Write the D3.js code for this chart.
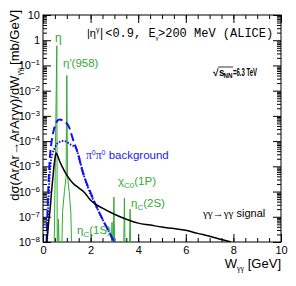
<!DOCTYPE html>
<html>
<head>
<meta charset="utf-8">
<script src="https://cdn.jsdelivr.net/npm/d3@7"></script>
<style>
	body { margin: 0; background: white; }
	text { font-family: "Liberation Sans", Arial, sans-serif; }
</style>
</head>
<body>
<svg id="chart"></svg>
<script>
let width = 296;
let height = 286;

// gamma gamma -> gamma gamma signal
const signalW = [0.15, 0.2, 0.25, 0.3, 0.35, 0.4, 0.45, 0.5, 0.55, 0.6, 0.7, 0.8, 1.0, 1.25, 1.5, 1.75, 2.0, 2.5, 3.0, 3.5, 4.0, 4.5, 5.0, 5.5, 6.0, 6.5, 7.0, 7.5, 7.9];
const signalVal = [1e-8, 2.5e-8, 8e-8, 2e-7, 8e-7, 2.5e-6, 8e-6, 2e-5, 3.4e-5, 2.8e-5, 1.6e-5, 1e-5, 4.5e-6, 2.2e-6, 1.4e-6, 9e-7, 4.5e-7, 2.2e-7, 1.26e-7, 8e-8, 5.6e-8, 4.7e-8, 3.9e-8, 3.4e-8, 2.9e-8, 2.2e-8, 1.7e-8, 1.25e-8, 1e-8];

// pi0 pi0 background, dashed
const bkgW = [0.15, 0.2, 0.25, 0.3, 0.35, 0.4, 0.5, 0.6, 0.7, 0.8, 0.9, 1.0, 1.1, 1.2, 1.3, 1.4, 1.5, 1.6, 1.75, 2.0, 2.25, 2.5, 2.75, 3.0];
const bkgVal = [1e-8, 3e-7, 5e-6, 3e-5, 8e-5, 1.6e-4, 4e-4, 6.3e-4, 7.2e-4, 6.8e-4, 6e-4, 5e-4, 3.5e-4, 1.8e-4, 9e-5, 5e-5, 2.5e-5, 1e-5, 3.5e-6, 9e-7, 2.5e-7, 8e-8, 2.8e-8, 1e-8];

// pi0 pi0 background, dotted
const bkg2W = [0.17, 0.22, 0.27, 0.32, 0.4, 0.5, 0.6, 0.7, 0.8, 0.9, 1.0, 1.1, 1.2, 1.3, 1.4, 1.5, 1.6, 1.75, 2.0, 2.25, 2.5, 2.75, 2.97];
const bkg2Val = [1e-8, 3e-7, 3e-6, 1.3e-5, 3.2e-5, 5.6e-5, 8e-5, 9.3e-5, 1e-4, 1e-4, 9.3e-5, 8e-5, 7e-5, 6.3e-5, 5e-5, 2.5e-5, 1.1e-5, 3.5e-6, 8e-7, 2.5e-7, 8e-8, 2.8e-8, 1e-8];

// resonances (eta, eta', eta_c(1S), chi_c0(1P), eta_c(2S))
const resW = [0.40, 0.46, 0.58, 0.60, 0.65, 0.70, 0.78, 0.82, 0.90, 0.97, 1.00, 1.03, 1.10, 1.17, 1.22, 2.84, 2.90, 2.94, 2.98, 3.02, 3.38, 3.42, 3.46, 3.62, 3.66, 3.70, 4.0];
const resVal = [1e-9, 1e-9, 0.6, 1e-9, 8e-8, 1e-9, 1e-9, 1.5e-7, 1e-6, 4e-6, 0.04, 4e-6, 1e-6, 1.5e-7, 1e-9, 1e-9, 6e-8, 1e-9, 6e-7, 1e-9, 1e-9, 5.5e-7, 1e-9, 1e-9, 2e-7, 1e-9, 1e-9];

const xMajor = [0, 2, 4, 6, 8, 10];
const yMajorExp = [-8, -7, -6, -5, -4, -3, -2, -1, 0, 1];

function draw() {
	const svg = d3.select("#chart").attr("width", width).attr("height", height);

	const x = d3.scaleLinear().domain([0, 10]).range([43, 281]);
	const y = d3.scaleLog().domain([1e-8, 10]).range([242, 15]);

	const xMinor = d3.range(0, 10.01, 0.5);
	const yMajor = yMajorExp.map((e) => Math.pow(10, e));
	const yMinor = [];
	yMajorExp.slice(0, -1).forEach((e) => {
		for (let k = 2; k <= 9; k++) yMinor.push(k * Math.pow(10, e));
	});

	svg.append("clipPath").attr("id", "clip")
		.append("rect").attr("x", 43).attr("y", 15).attr("width", 238).attr("height", 227);

	// axes: ticks point inward, ROOT style
	function axisPair(axisFn, scale, vals, len, tr) {
		const g = svg.append("g").attr("transform", tr)
			.call(axisFn(scale).tickValues(vals).tickSize(-len).tickFormat(""));
		g.select(".domain").remove();
		g.selectAll("line").attr("stroke", "black");
		return g;
	}
	axisPair(d3.axisBottom, x, xMinor, 4, "translate(0,242)");
	axisPair(d3.axisTop, x, xMinor, 4, "translate(0,15)");
	axisPair(d3.axisTop, x, xMajor, 8, "translate(0,15)");
	axisPair(d3.axisLeft, y, yMinor, 4, "translate(43,0)");
	axisPair(d3.axisRight, y, yMinor, 4, "translate(281,0)");
	axisPair(d3.axisLeft, y, yMajor, 8, "translate(43,0)");
	axisPair(d3.axisRight, y, yMajor, 8, "translate(281,0)");

	const xAxis = svg.append("g").attr("transform", "translate(0,242)")
		.call(d3.axisBottom(x).tickValues(xMajor).tickSize(-8).tickPadding(4).tickFormat(d3.format("d")));
	xAxis.select(".domain").remove();
	xAxis.selectAll("line").attr("stroke", "black");
	xAxis.selectAll("text").attr("font-size", 11).attr("font-family", "Liberation Sans").attr("fill", "black");

	const yAxis = svg.append("g").attr("transform", "translate(43,0)")
		.call(d3.axisLeft(y).tickValues(yMajor).tickSize(0).tickPadding(3).tickFormat(""));
	yAxis.select(".domain").remove();
	yAxis.selectAll("text")
		.attr("font-size", 11).attr("font-family", "Liberation Sans").attr("fill", "black")
		.each(function (d) {
			const e = Math.round(Math.log10(d));
			const t = d3.select(this);
			if (e === 0) { t.text("1"); return; }
			if (e === 1) { t.text("10"); return; }
			t.append("tspan").text("10");
			t.append("tspan").attr("font-size", 8).attr("dy", -4).text(String(e).replace("-", "\u2212"));
		});

	// frame
	svg.append("rect").attr("x", 43).attr("y", 15).attr("width", 238).attr("height", 227)
		.attr("fill", "none").attr("stroke", "black").attr("stroke-width", 1);

	const plot = svg.append("g").attr("clip-path", "url(#clip)");
	const line = d3.line().x((d) => x(d[0])).y((d) => y(d[1]));
	const smooth = d3.line().x((d) => x(d[0])).y((d) => y(d[1])).curve(d3.curveMonotoneX);

	plot.append("path").datum(d3.zip(resW, resVal))
		.attr("d", line).attr("fill", "none").attr("stroke", "#33aa33").attr("stroke-width", 1);
	plot.append("path").datum(d3.zip(bkg2W, bkg2Val))
		.attr("d", smooth).attr("fill", "none").attr("stroke", "#1010f0")
		.attr("stroke-width", 2).attr("stroke-dasharray", "1.5,1.5");
	plot.append("path").datum(d3.zip(bkgW, bkgVal))
		.attr("d", smooth).attr("fill", "none").attr("stroke", "#1010f0")
		.attr("stroke-width", 2).attr("stroke-dasharray", "8,4");
	plot.append("path").datum(d3.zip(signalW, signalVal))
		.attr("d", smooth).attr("fill", "none").attr("stroke", "black")
		.attr("stroke-width", 1.5);

	const green = "#33aa33";
	const blue = "#1a1aee";

	// labels
	svg.append("text").attr("x", 55).attr("y", 42).attr("font-size", 12).attr("fill", green).text("\u03b7");
	svg.append("text").attr("x", 63).attr("y", 67).attr("font-size", 11.5).attr("fill", green).text("\u03b7'(958)");

	const cut = svg.append("text").attr("y", 37).attr("font-size", 11).attr("fill", "black");
	cut.append("tspan").attr("x", 87).text("|\u03b7");
	cut.append("tspan").attr("font-size", 7).attr("dy", -5).text("\u03b3");
	cut.append("tspan").attr("x", 98).attr("dy", 5).attr("font-family", "Liberation Mono").attr("font-size", 12).text("|<0.9, E");
	cut.append("tspan").attr("font-size", 6).attr("dy", 3).text("\u03b3");
	cut.append("tspan").attr("x", 158).attr("dy", -3).attr("font-family", "Liberation Mono").attr("font-size", 12).text(">200 MeV (ALICE)");

	const sq = svg.append("text").attr("y", 76).attr("font-family", "Liberation Serif")
		.attr("font-weight", "bold").attr("font-size", 10).attr("fill", "black");
	sq.append("tspan").attr("x", 213).text("\u221a");
	sq.append("tspan").attr("x", 219).text("s");
	sq.append("tspan").attr("x", 223.5).attr("font-size", 7).attr("dy", 2).attr("textLength", 9)
		.attr("lengthAdjust", "spacingAndGlyphs").text("NN");
	sq.append("tspan").attr("x", 233).attr("dy", -2).attr("textLength", 24)
		.attr("lengthAdjust", "spacingAndGlyphs").text("=6.3 TeV");
	svg.append("line").attr("x1", 218).attr("x2", 233).attr("y1", 67).attr("y2", 67)
		.attr("stroke", "black").attr("stroke-width", 0.8);

	const bg = svg.append("text").attr("x", 86).attr("y", 159).attr("font-size", 11.5).attr("fill", blue);
	bg.append("tspan").attr("font-family", "Liberation Serif").text("\u03c0");
	bg.append("tspan").attr("font-size", 7).attr("dy", -4).text("0");
	bg.append("tspan").attr("font-family", "Liberation Serif").attr("dy", 4).text("\u03c0");
	bg.append("tspan").attr("font-size", 7).attr("dy", -4).text("0");
	bg.append("tspan").attr("dy", 4).text(" background");

	const chi = svg.append("text").attr("x", 118).attr("y", 185).attr("font-size", 11.5).attr("fill", green);
	chi.append("tspan").text("\u03c7");
	chi.append("tspan").attr("font-size", 8).attr("dy", 3).text("C0");
	chi.append("tspan").attr("dy", -3).text("(1P)");

	const etc2 = svg.append("text").attr("x", 131).attr("y", 207).attr("font-size", 11.5).attr("fill", green);
	etc2.append("tspan").text("\u03b7");
	etc2.append("tspan").attr("font-size", 8).attr("dy", 3).text("C");
	etc2.append("tspan").attr("dy", -3).text("(2S)");

	const etc1 = svg.append("text").attr("x", 77).attr("y", 234).attr("font-size", 11.5).attr("fill", green);
	etc1.append("tspan").text("\u03b7");
	etc1.append("tspan").attr("font-size", 8).attr("dy", 3).text("C");
	etc1.append("tspan").attr("dy", -3).text("(1S)");

	const sig = svg.append("text").attr("x", 203).attr("y", 217).attr("font-size", 11).attr("fill", "black");
	sig.append("tspan").attr("font-family", "Liberation Serif").attr("font-size", 11).text("\u03b3\u03b3\u2192\u03b3\u03b3");
	sig.append("tspan").text(" signal");

	// axis titles
	const xt = svg.append("text").attr("x", 281).attr("y", 268).attr("text-anchor", "end")
		.attr("font-size", 13).attr("fill", "black");
	xt.append("tspan").text("W");
	xt.append("tspan").attr("font-family", "Liberation Serif").attr("font-size", 8).attr("dy", 3).text("\u03b3\u03b3");
	xt.append("tspan").attr("dy", -3).text(" [GeV]");

	const yt = svg.append("text").attr("transform", "translate(19,10) rotate(-90)")
		.attr("text-anchor", "end").attr("font-size", 13).attr("fill", "black");
	yt.append("tspan").text("d\u03c3(ArAr\u2192ArAr\u03b3\u03b3)/dW");
	yt.append("tspan").attr("font-family", "Liberation Serif").attr("font-size", 8).attr("dy", 3).text("\u03b3\u03b3");
	yt.append("tspan").attr("dy", -3).text("  [mb/GeV]");
}

draw();
</script>
</body>
</html>
